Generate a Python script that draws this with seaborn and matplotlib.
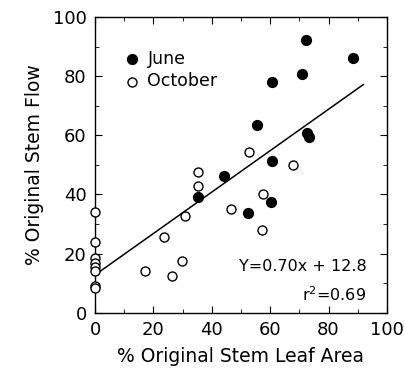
import numpy as np
import pandas as pd
import matplotlib
matplotlib.use("Agg")
import matplotlib.pyplot as plt
import seaborn as sns
from matplotlib.ticker import MultipleLocator

# 6월 데이터 (채운 원)
june_x = [35.4, 44.2, 52.5, 55.6, 60.2, 60.7, 60.8, 70.8, 72.4, 72.5, 73.2, 88.5]
june_y = [39.1, 46.4, 33.7, 63.6, 37.4, 51.4, 78.1, 80.7, 92.2, 60.7, 59.4, 86.0]

# 10월 데이터 (빈 원)
oct_x = [0, 0, 0, 0, 0, 0, 0, 0, 17.2, 23.6, 26.5, 29.9, 30.9, 35.4, 35.4,
         46.6, 52.8, 57.1, 57.4, 67.7]
oct_y = [34.2, 23.8, 18.5, 16.8, 15.4, 14.0, 8.9, 8.3, 14.0, 25.7, 12.3, 17.6,
         32.8, 43.0, 47.5, 35.0, 54.3, 28.0, 40.2, 49.8]

# 회귀식
slope, intercept = 0.70, 12.8
fit_x = np.array([0, 92])
fit_df = pd.DataFrame({'x': fit_x, 'y': slope * fit_x + intercept})

sns.set_style("ticks")
plt.rcParams['font.family'] = ['DejaVu Sans']
plt.rcParams['text.color'] = 'black'
plt.rcParams['axes.labelcolor'] = 'black'
plt.rcParams['xtick.color'] = 'black'
plt.rcParams['ytick.color'] = 'black'

fig = plt.figure(figsize=(4.06, 3.76), dpi=100)
ax = fig.add_axes([0.234, 0.168, 0.719, 0.787])

sns.lineplot(data=fit_df, x='x', y='y', color='black', lw=1.1, ax=ax, zorder=1)
sns.scatterplot(x=june_x, y=june_y, s=50, color='black', edgecolor='black',
                linewidth=1, label='June', ax=ax, zorder=3)
sns.scatterplot(x=oct_x, y=oct_y, s=42, facecolor='white', edgecolor='black',
                linewidth=1, label='October', ax=ax, zorder=3, clip_on=False)

ax.set_xlim(0, 100)
ax.set_ylim(0, 100)
ax.xaxis.set_major_locator(MultipleLocator(20))
ax.yaxis.set_major_locator(MultipleLocator(20))
ax.xaxis.set_minor_locator(MultipleLocator(10))
ax.yaxis.set_minor_locator(MultipleLocator(10))
ax.tick_params(which='both', direction='in', top=True, right=True, color='black')
ax.tick_params(which='major', length=5, labelsize=13, pad=6)
ax.tick_params(which='minor', length=3)
for sp in ax.spines.values():
    sp.set_color('black')
    sp.set_linewidth(1.0)

ax.set_xlabel('% Original Stem Leaf Area', fontsize=13.5, labelpad=6)
ax.set_ylabel('% Original Stem Flow', fontsize=13.5, labelpad=6)

ax.text(93, 15.5, 'Y=0.70x + 12.8', ha='right', va='center', fontsize=11.5)
ax.text(93, 6, 'r$^2$=0.69', ha='right', va='center', fontsize=11.5)

ax.legend(loc='upper left', bbox_to_anchor=(0.025, 0.93), frameon=False,
          fontsize=12.5, handletextpad=-0.1, labelspacing=0.25, borderpad=0.2)

fig.savefig('out.png', dpi=100)
